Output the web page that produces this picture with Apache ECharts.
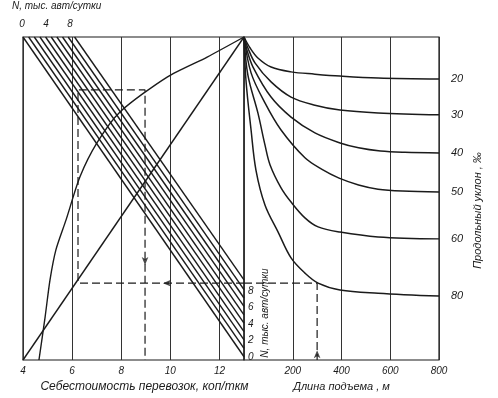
<!DOCTYPE html>
<html>
<head>
<meta charset="utf-8">
<script src="https://cdn.jsdelivr.net/npm/echarts@6/dist/echarts.min.js"></script>
<style>
  html, body { margin: 0; padding: 0; background: #fff; }
  #chart { width: 498px; height: 398px; }
</style>
</head>
<body>
<div id="chart"></div>
<script>
// nomogram: cost of haulage (left) and length of grade (right)
// the vertical scale is the nomogram's own unlabeled 0..100 scale

// hatched band: where each line starts on top and where it meets the right edge
const bandTopCost = [4.0, 4.23, 4.46, 4.69, 4.92, 5.15, 5.38, 5.61, 5.84, 6.1];
const bandEndLevel = [1.0, 3.6, 6.2, 8.8, 11.4, 14.0, 16.6, 19.2, 21.8, 24.8];

// straight ray and curve from the pole down to the cost axis
const rayCost = [4.0, 13.0];
const rayLevel = [0, 100];
const curveCost = [4.65, 4.9, 5.1, 5.34, 5.75, 6.32, 7.01, 7.95, 9.87, 11.5, 13.0];
const curveLevel = [0, 13.3, 24.8, 34.1, 43.3, 56.7, 67.2, 76.8, 87.6, 93.8, 100];

// grade curves, ‰ ; length of grade in m
const grade20Len = [0, 25, 57, 111, 193, 291, 394, 550, 800];
const grade20Lvl = [100, 96.6, 93.5, 90.7, 89.2, 88.5, 87.9, 87.3, 87.0];
const grade30Len = [0, 16, 45, 111, 193, 291, 394, 550, 800];
const grade30Lvl = [100, 96.6, 92.0, 86.1, 81.4, 78.9, 77.4, 76.5, 75.9];
const grade40Len = [0, 12, 37, 111, 193, 291, 394, 470, 560, 660, 800];
const grade40Lvl = [100, 96.0, 90.7, 81.4, 75.2, 70.3, 67.2, 65.7, 64.7, 64.3, 64.1];
const grade50Len = [0, 29, 86, 152, 250, 320, 390, 470, 550, 650, 800];
const grade50Lvl = [100, 88.9, 79.6, 71.2, 62.6, 59.0, 56.3, 54.2, 52.9, 52.3, 52.0];
const grade60Len = [0, 16, 57, 86, 107, 152, 193, 250, 304, 394, 550, 800];
const grade60Lvl = [100, 88.2, 76.5, 66.6, 60.4, 53.3, 48.9, 44.0, 41.2, 39.6, 38.1, 37.5];
const grade80Len = [0, 8, 29, 49, 86, 140, 193, 250, 304, 394, 550, 800];
const grade80Lvl = [100, 86.7, 71.2, 58.8, 48.0, 39.6, 31.6, 26.9, 23.8, 21.7, 20.7, 19.8];

const grades = [
  { name: '20', len: grade20Len, lvl: grade20Lvl },
  { name: '30', len: grade30Len, lvl: grade30Lvl },
  { name: '40', len: grade40Len, lvl: grade40Lvl },
  { name: '50', len: grade50Len, lvl: grade50Lvl },
  { name: '60', len: grade60Len, lvl: grade60Lvl },
  { name: '80', len: grade80Len, lvl: grade80Lvl }
];

// dashed example route (arrows)
const routeCost = [13, 6.24, 6.24, 8.97, 8.97];
const routeCostLvl = [23.8, 23.8, 83.6, 83.6, 0];
const routeLen = [0, 300, 300];
const routeLenLvl = [23.8, 23.8, 0];
const arrowCost = [9.7, 8.97];
const arrowCostLvl = [23.8, 29.4];
const arrowCostDir = [90, 180];
const arrowLen = [300];
const arrowLenLvl = [3];

const pairs = (xs, ys) => xs.map((x, i) => [x, ys[i]]);

const ink = '#1b1b1b';
const font = { fontFamily: 'Liberation Sans', fontStyle: 'italic', color: ink };

const series = [];

bandTopCost.forEach((c, i) => {
  series.push({
    type: 'line', xAxisIndex: 0, yAxisIndex: 0,
    data: [[c, 100], [13, bandEndLevel[i]]],
    symbol: 'none', silent: true,
    lineStyle: { color: ink, width: 1.4 }
  });
});

series.push({
  type: 'line', xAxisIndex: 0, yAxisIndex: 0,
  data: pairs(rayCost, rayLevel), symbol: 'none',
  lineStyle: { color: ink, width: 1.4 }
});
series.push({
  type: 'line', xAxisIndex: 0, yAxisIndex: 0,
  data: pairs(curveCost, curveLevel), symbol: 'none',
  smooth: 0.25,
  lineStyle: { color: ink, width: 1.4 }
});

grades.forEach(g => {
  series.push({
    type: 'line', xAxisIndex: 1, yAxisIndex: 1, name: g.name,
    data: pairs(g.len, g.lvl), symbol: 'none',
    smooth: 0.35,
    lineStyle: { color: ink, width: 1.5 },
    endLabel: { show: true, formatter: '{a}', distance: 12, fontSize: 11, ...font }
  });
});

series.push({
  type: 'line', xAxisIndex: 0, yAxisIndex: 0,
  data: pairs(routeCost, routeCostLvl), symbol: 'none',
  lineStyle: { color: ink, width: 1.2, type: [8, 4] }
});
series.push({
  type: 'line', xAxisIndex: 1, yAxisIndex: 1,
  data: pairs(routeLen, routeLenLvl), symbol: 'none',
  lineStyle: { color: ink, width: 1.2, type: [8, 4] }
});
series.push({
  type: 'scatter', xAxisIndex: 0, yAxisIndex: 0,
  data: arrowCost.map((x, i) => ({ value: [x, arrowCostLvl[i]], symbolRotate: arrowCostDir[i] })),
  symbol: 'arrow', symbolSize: [5, 8], itemStyle: { color: ink }
});
series.push({
  type: 'scatter', xAxisIndex: 1, yAxisIndex: 1,
  data: pairs(arrowLen, arrowLenLvl),
  symbol: 'arrow', symbolSize: [5, 8], itemStyle: { color: ink }
});

const chart = echarts.init(document.getElementById('chart'), null, { renderer: 'canvas' });
chart.setOption({
  animation: false,
  backgroundColor: '#fff',
  grid: [
    { left: 23, top: 37, width: 221, height: 323, show: true, borderColor: ink, borderWidth: 1.2 },
    { left: 244, top: 37, width: 195, height: 323, show: true, borderColor: ink, borderWidth: 1.2 },
    { left: 22, top: 37, width: 48, height: 1 },
    { left: 244, top: 291, width: 1, height: 66 }
  ],
  xAxis: [
    {
      gridIndex: 0, type: 'value', min: 4, max: 13, interval: 2,
      axisLine: { show: false }, axisTick: { show: false },
      axisLabel: { margin: 6, fontSize: 10, showMaxLabel: false, ...font },
      splitLine: { show: true, lineStyle: { color: '#333', width: 1 } },
      name: 'Себестоимость перевозок, коп/ткм', nameLocation: 'middle', nameGap: 20,
      nameTextStyle: { fontSize: 12, padding: [0, 0, 0, 22], ...font }
    },
    {
      gridIndex: 1, type: 'value', min: 0, max: 800, interval: 200,
      axisLine: { show: false }, axisTick: { show: false },
      axisLabel: { margin: 6, fontSize: 10, showMinLabel: false, ...font },
      splitLine: { show: true, lineStyle: { color: '#333', width: 1 } },
      name: 'Длина подъема , м', nameLocation: 'middle', nameGap: 21,
      nameTextStyle: { fontSize: 11, ...font }
    },
    {
      gridIndex: 2, type: 'value', min: 0, max: 8, interval: 4, position: 'top',
      axisLine: { show: false }, axisTick: { show: false }, splitLine: { show: false },
      axisLabel: { margin: 8, fontSize: 10, ...font }
    },
    { gridIndex: 3, type: 'value', show: false }
  ],
  yAxis: [
    { gridIndex: 0, type: 'value', min: 0, max: 100, show: false },
    {
      gridIndex: 1, type: 'value', min: 0, max: 100, position: 'right',
      axisLine: { show: false }, axisTick: { show: false },
      axisLabel: { show: false }, splitLine: { show: false },
      name: 'Продольный уклон , ‰', nameLocation: 'middle', nameRotate: 90, nameGap: 33,
      nameTextStyle: { fontSize: 11, padding: [0, 24, 0, 0], ...font }
    },
    { gridIndex: 2, type: 'value', show: false },
    {
      gridIndex: 3, type: 'value', min: 0, max: 8, interval: 2, position: 'right',
      axisLine: { show: false }, axisTick: { show: false }, splitLine: { show: false },
      axisLabel: { margin: 3, fontSize: 10, ...font },
      name: 'N, тыс. авт/сутки', nameLocation: 'middle', nameRotate: 90, nameGap: 15,
      nameTextStyle: { fontSize: 10, padding: [0, 0, 0, 22], ...font }
    }
  ],
  graphic: [
    {
      type: 'text', left: 12, top: 1,
      style: { text: 'N, тыс. авт/сутки', font: 'italic 10px "Liberation Sans"', fill: ink }
    }
  ],
  series: series
});
</script>
</body>
</html>
